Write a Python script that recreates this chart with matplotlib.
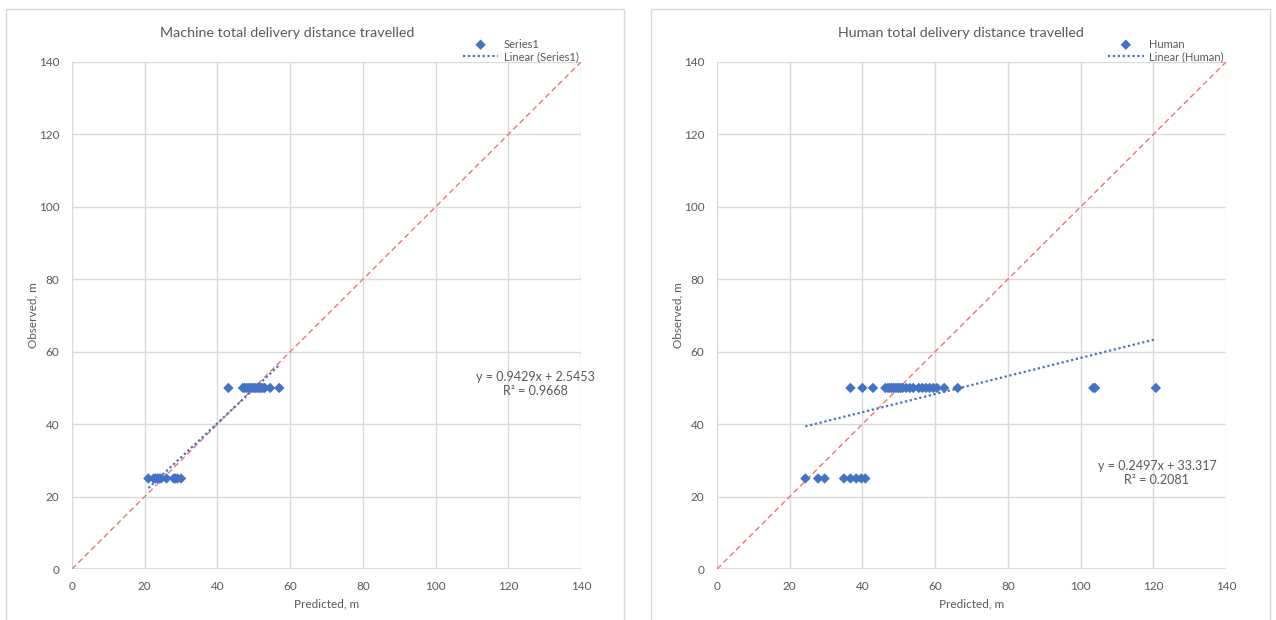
import matplotlib
matplotlib.use('Agg')
import matplotlib.pyplot as plt
from matplotlib.patches import Rectangle
import numpy as np

plt.rcParams['font.family'] = ['Lato', 'DejaVu Sans']

# values
machine_x = [21, 22.5, 23, 23.5, 24, 24.5, 26, 28, 28.5, 29, 30,
             43, 47, 47.5, 48, 48.5, 49, 49.5, 50, 50.5, 51, 51.5, 52, 52.5, 53, 54.5, 57]
machine_y = [25] * 11 + [50] * 16
machine_fit = (0.9429, 2.5453)
machine_r2 = 0.9668

human_x = [24.3, 27.8, 29.6, 34.9, 36.7, 38.3, 39.7, 40.8,
           36.7, 40, 42.9, 46.3, 47, 47.5, 48, 48.5, 49, 49.5, 50, 50.5, 51, 52, 53, 54,
           55.5, 56.5, 57.5, 58.5, 59.5, 60.5, 62.5, 66.2, 103.5, 104, 120.7]
human_y = [25] * 8 + [50] * 27
human_fit = (0.2497, 33.317)
human_r2 = 0.2081

ticks = [0, 20, 40, 60, 80, 100, 120, 140]

BLUE = '#4472C4'
GREY = '#595959'
GRID = '#D9D9D9'

W, H = 1276, 620
fig = plt.figure(figsize=(W / 100, H / 100), dpi=100)

# chart frames
for x0, x1 in [(6, 624), (651, 1270)]:
    fig.patches.append(Rectangle((x0 / W, -0.05), (x1 - x0) / W, (H - 9) / H + 0.05,
                                 transform=fig.transFigure, fill=False,
                                 edgecolor=GRID, linewidth=1))


def draw(left_px, xs, ys, fit, r2, title, title_x, name, eq_pos):
    ax = fig.add_axes([left_px / W, (H - 569) / H, 509 / W, 507 / H])
    ax.set_xlim(0, 140)
    ax.set_ylim(0, 140)
    ax.set_xticks(ticks)
    ax.set_yticks(ticks)
    ax.grid(True, color=GRID, linewidth=1)
    ax.set_axisbelow(True)
    for s in ax.spines.values():
        s.set_visible(False)
    ax.axhline(0, color=GRID, linewidth=1.2, zorder=1)
    ax.tick_params(length=0, labelsize=8.5, labelcolor=GREY, pad=9)

    ax.plot([0, 140], [0, 140], linestyle=(0, (4, 2.5)), color='#F4736B', linewidth=1, zorder=2)
    ax.scatter(xs, ys, marker='D', s=28, color=BLUE, edgecolors='none', zorder=3, label=name)
    lx = np.array([min(xs), max(xs)])
    ax.plot(lx, fit[0] * lx + fit[1], linestyle=(0, (1, 1.2)), color=BLUE, linewidth=1.6,
            zorder=4, label='Linear (%s)' % name)

    ax.text(eq_pos[0], eq_pos[1], 'y = %.4fx + %g\nR² = %.4f' % (fit[0], fit[1], r2),
            ha='center', va='center', fontsize=9, color=GREY, linespacing=1.2)

    ax.text(title_x, 1.058, title, transform=ax.transAxes, ha='center', va='center',
            fontsize=10.3, color=GREY)
    ax.set_xlabel('Predicted, m', fontsize=8.5, color=GREY, labelpad=4)
    ax.set_ylabel('Observed, m', fontsize=8.5, color=GREY, labelpad=0)
    ax.legend(loc='lower right', bbox_to_anchor=(1.0, 0.995), frameon=False, fontsize=8,
              labelcolor=GREY, handlelength=3.2, handletextpad=0.5, borderpad=0.1,
              labelspacing=0.15, borderaxespad=0.1)
    return ax


draw(72, machine_x, machine_y, machine_fit, machine_r2,
     'Machine total delivery distance travelled', 0.422, 'Series1', (127.5, 51))
draw(717, human_x, human_y, human_fit, human_r2,
     'Human total delivery distance travelled', 0.479, 'Human', (121, 26.5))

fig.savefig('out.png', dpi=100)
